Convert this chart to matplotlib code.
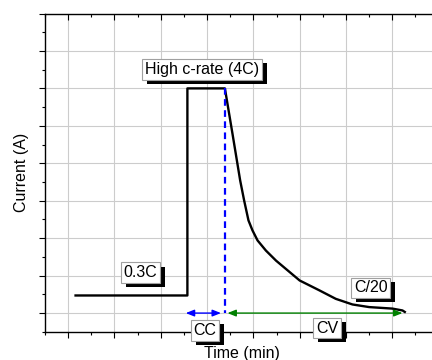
import numpy as np
import matplotlib
matplotlib.use("Agg")
import matplotlib.pyplot as plt
import matplotlib.patheffects as pe
from matplotlib.ticker import MultipleLocator

plt.rcParams["font.family"] = ["Liberation Sans", "DejaVu Sans"]

# current profile (arbitrary units)
time = [1.16, 3.575, 3.575, 4.385, 4.55, 4.715, 4.80, 4.894, 4.98, 5.09, 5.27,
        5.49, 5.74, 6.00, 6.42, 6.78, 7.14, 7.50, 8.00, 8.22, 8.27]
current = [1.47, 1.47, 7.0, 7.0, 5.78, 4.54, 4.01, 3.475, 3.21, 2.94, 2.67,
           2.40, 2.14, 1.87, 1.61, 1.38, 1.23, 1.16, 1.12, 1.07, 1.03]

# phase boundaries
cv_start = 4.385
cc_arrow = (3.54, 4.30)
cv_arrow = (4.44, 8.22)
arrow_level = 1.0

# annotation labels: text, x, y
labels = ["High c-rate (4C)", "0.3C", "CC", "CV", "C/20"]
label_x = [3.894, 2.56, 3.955, 6.594, 7.533]
label_y = [7.51, 2.08, 0.54, 0.60, 1.673]

fig = plt.figure(figsize=(4.32, 3.6), dpi=100)
ax = fig.add_axes([45/432, 1 - 331.8/360, 393.6/432, 318.3/360])

ax.plot(time, current, color='black', lw=1.7, zorder=3)
ax.plot([cv_start, cv_start], [current[3], arrow_level], color='blue', lw=1.6,
        ls=(0, (3, 2)), zorder=3)

ax.annotate('', xy=(cc_arrow[0], arrow_level), xytext=(cc_arrow[1], arrow_level),
            arrowprops=dict(arrowstyle='<|-|>,head_length=0.5,head_width=0.2',
                            color='blue', lw=1.0, shrinkA=0, shrinkB=0), zorder=4)
ax.annotate('', xy=(cv_arrow[0], arrow_level), xytext=(cv_arrow[1], arrow_level),
            arrowprops=dict(arrowstyle='<|-|>,head_length=0.5,head_width=0.2',
                            color='green', lw=1.0, shrinkA=0, shrinkB=0), zorder=4)

for s, x, y in zip(labels, label_x, label_y):
    t = ax.text(x, y, s, ha='center', va='center', fontsize=11.5, zorder=6,
                clip_on=False,
                bbox=dict(boxstyle='square,pad=0.17', fc='white', ec='#a0a0a0', lw=0.8))
    t.get_bbox_patch().set_path_effects([
        pe.SimplePatchShadow(offset=(3.5, -3), shadow_rgbFace='black', alpha=1),
        pe.Normal()])

ax.set_xlim(0.5, 9.0)
ax.set_ylim(0.5, 9.0)
ax.xaxis.set_major_locator(MultipleLocator(1))
ax.xaxis.set_minor_locator(MultipleLocator(0.5))
ax.yaxis.set_major_locator(MultipleLocator(1))
ax.yaxis.set_minor_locator(MultipleLocator(0.5))
ax.grid(True, which='major', color='#cccccc', lw=0.8)
ax.set_axisbelow(True)

ax.spines['right'].set_visible(False)
for sp in ['left', 'bottom', 'top']:
    ax.spines[sp].set_linewidth(1.0)

ax.tick_params(which='both', labelbottom=False, labelleft=False, width=0.8)
ax.tick_params(axis='x', which='both', top=True, direction='out')
ax.tick_params(which='major', length=4.5)
ax.tick_params(which='minor', length=2.5)
ax.tick_params(axis='x', which='both', labeltop=False)
for tk in ax.xaxis.get_major_ticks() + ax.xaxis.get_minor_ticks():
    tk.tick2line.set_marker(matplotlib.lines.TICKDOWN)

ax.set_xlabel('Time (min)', fontsize=11.5, labelpad=6)
ax.set_ylabel('Current (A)', fontsize=11.5, labelpad=7)

fig.savefig('out.png', dpi=100)
